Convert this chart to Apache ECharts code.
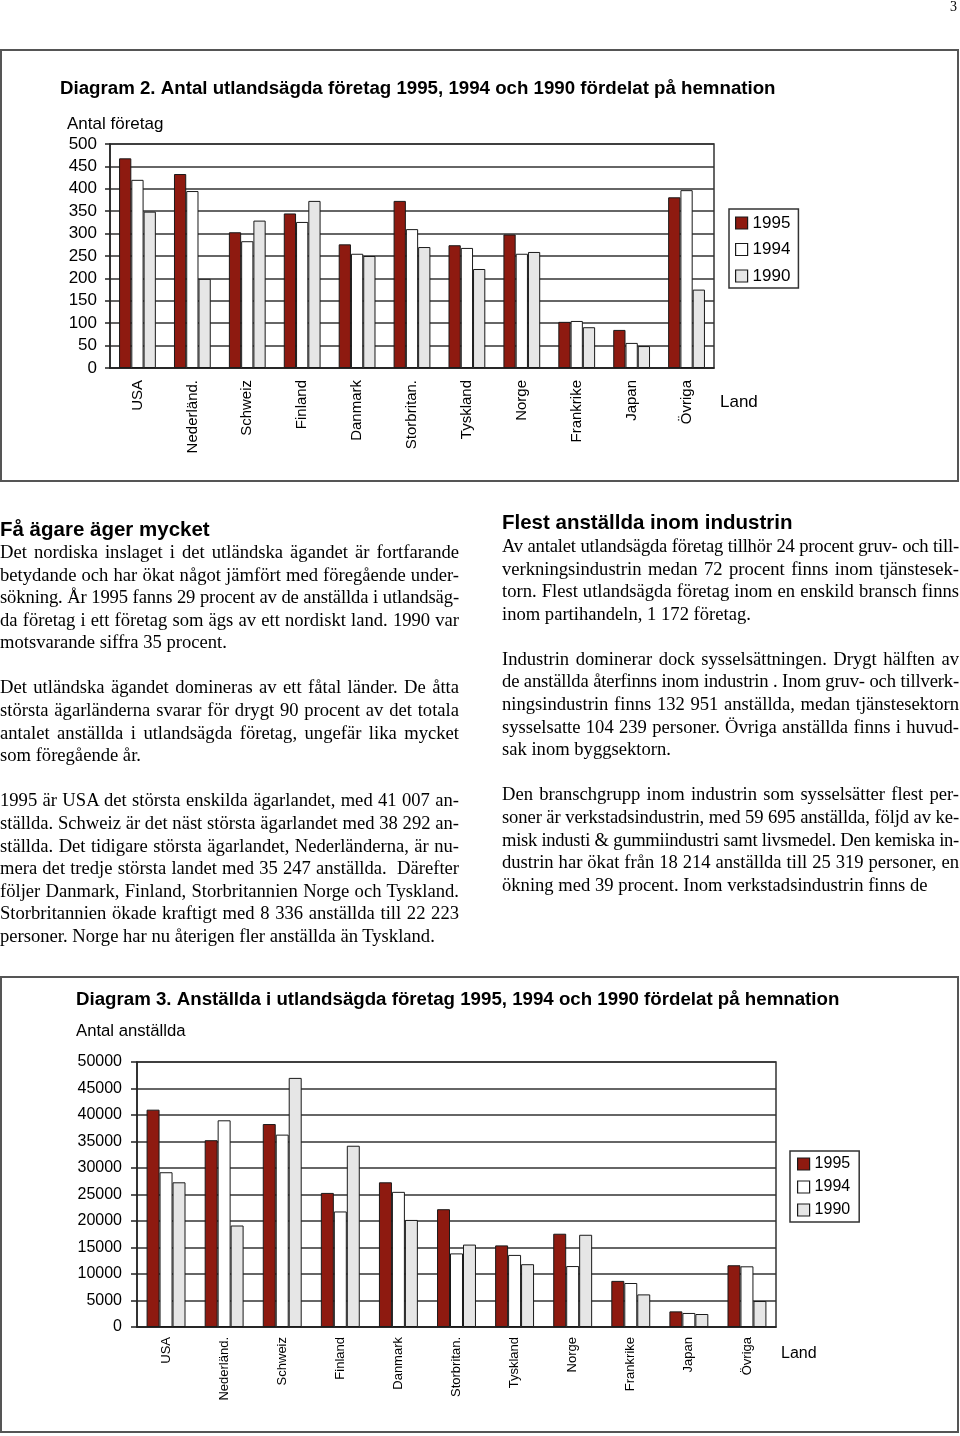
<!DOCTYPE html>
<html>
<head>
<meta charset="utf-8">
<script src="https://cdn.jsdelivr.net/npm/echarts@6/dist/echarts.min.js"></script>
<style>
  html,body{margin:0;padding:0;background:#fff;}
  #wrap{position:relative;width:960px;height:1436px;overflow:hidden;}
  #chart{position:absolute;left:0;top:0;width:960px;height:1436px;}
  .col{position:absolute;font-family:"Liberation Serif","Times New Roman",serif;font-size:18.6px;color:#000;}
  .col .ln{height:22.59px;line-height:22.59px;white-space:nowrap;text-align:justify;text-align-last:justify;}
  .col .ln.end{text-align:left;text-align-last:left;}
  .col.measure .ln{text-align:left;text-align-last:left;}
  .h{position:absolute;font-family:"Liberation Sans",Arial,sans-serif;font-weight:bold;font-size:20.5px;line-height:24px;white-space:nowrap;color:#000;}
  .pg{position:absolute;font-family:"Liberation Serif",serif;font-size:14px;line-height:14px;}
</style>
</head>
<body>
<div id="wrap">
  <div id="chart"></div>
  <div class="pg" style="left:950px;top:0px;">3</div>
  <div class="h" style="left:0px;top:517px;">Få ägare äger mycket</div>
  <div class="col measure" id="leftcol" style="left:0px;top:541px;width:459px;"></div>
  <div class="h" style="left:502px;top:510px;">Flest anställda inom industrin</div>
  <div class="col measure" id="rightcol" style="left:502px;top:535px;width:457px;"></div>
</div>
<script>
// ---- data ----
const categories = ['USA','Nederländ.','Schweiz','Finland','Danmark','Storbritan.','Tyskland','Norge','Frankrike','Japan','Övriga'];
const seriesNames = ['1995','1994','1990'];
// Diagram 2: Antal företag
const foretag1995 = [468, 433, 303, 345, 276, 373, 274, 298, 103, 85, 381];
const foretag1994 = [420, 395, 283, 326, 255, 310, 268, 255, 105, 56, 397];
const foretag1990 = [349, 199, 329, 373, 250, 270, 221, 259, 91, 49, 175];
// Diagram 3: Antal anställda
const anstallda1995 = [41007, 35247, 38292, 25300, 27300, 22223, 15400, 17600, 8700, 2950, 11650];
const anstallda1994 = [29200, 39000, 36300, 21800, 25500, 13887, 13600, 11500, 8300, 2650, 11450];
const anstallda1990 = [27300, 19150, 47000, 34200, 20200, 15550, 11850, 17400, 6150, 2450, 4900];

const leftLines = [
  ['Det nordiska inslaget i det utländska ägandet är fortfarande',0],
  ['betydande och har ökat något jämfört med föregående under-',0],
  ['sökning. År 1995 fanns 29 procent av de anställda i utlandsäg-',0],
  ['da företag i ett företag som ägs av ett nordiskt land. 1990 var',0],
  ['motsvarande siffra 35 procent.',1],
  ['',1],
  ['Det utländska ägandet domineras av ett fåtal länder. De åtta',0],
  ['största ägarländerna svarar för drygt 90 procent av det totala',0],
  ['antalet anställda i utlandsägda företag, ungefär lika mycket',0],
  ['som föregående år.',1],
  ['',1],
  ['1995 är USA det största enskilda ägarlandet, med 41 007 an-',0],
  ['ställda. Schweiz är det näst största ägarlandet med 38 292 an-',0],
  ['ställda. Det tidigare största ägarlandet, Nederländerna, är nu-',0],
  ['mera det tredje största landet med 35 247 anställda.&nbsp; Därefter',0],
  ['följer Danmark, Finland, Storbritannien Norge och Tyskland.',0],
  ['Storbritannien ökade kraftigt med 8 336 anställda till 22 223',0],
  ['personer. Norge har nu återigen fler anställda än Tyskland.',1]
];
const rightLines = [
  ['Av antalet utlandsägda företag tillhör 24 procent gruv- och till-',0],
  ['verkningsindustrin medan 72 procent finns inom tjänstesek-',0],
  ['torn. Flest utlandsägda företag inom en enskild bransch finns',0],
  ['inom partihandeln, 1 172 företag.',1],
  ['',1],
  ['Industrin dominerar dock sysselsättningen. Drygt hälften av',0],
  ['de anställda återfinns inom industrin . Inom gruv- och tillverk-',0],
  ['ningsindustrin finns 132 951 anställda, medan tjänstesektorn',0],
  ['sysselsatte 104 239 personer. Övriga anställda finns i huvud-',0],
  ['sak inom byggsektorn.',1],
  ['',1],
  ['Den branschgrupp inom industrin som sysselsätter flest per-',0],
  ['soner är verkstadsindustrin, med 59 695 anställda, följd av ke-',0],
  ['misk industi &amp; gummiindustri samt livsmedel. Den kemiska in-',0],
  ['dustrin har ökat från 18 214 anställda till 25 319 personer, en',0],
  ['ökning med 39 procent. Inom verkstadsindustrin finns de',1]
];
function fill(id, lines){
  const col = document.getElementById(id);
  col.innerHTML = lines.map(l =>
    '<div class="ln' + (l[1] ? ' end' : '') + '"><span>' + (l[0] || '&nbsp;') + '</span></div>').join('');
  const w = col.clientWidth;
  col.querySelectorAll('.ln').forEach(ln => {
    const sp = ln.firstChild;
    const nat = sp.getBoundingClientRect().width;
    if (nat > w - 0.5) {
      const n = sp.textContent.length;
      ln.style.letterSpacing = (-(nat - w + 1.0) / n).toFixed(3) + 'px';
    }
  });
  col.classList.remove('measure');
}
fill('leftcol', leftLines);
fill('rightcol', rightLines);

// ---- chart ----
const FONT = '"Liberation Sans", Arial, Helvetica, sans-serif';
const RED = '#8e1a10', WHITE = '#ffffff', GRAY = '#e6e6e6';
const colors = [RED, WHITE, GRAY];
const chart = echarts.init(document.getElementById('chart'), null, {renderer:'canvas'});

function barSeries(name, data, idx, color){
  return {
    type:'bar', name:name, data:data, xAxisIndex:idx, yAxisIndex:idx,
    barGap:'0%', barCategoryGap:'33%',
    itemStyle:{color:color, borderColor:'#1a1a1a', borderWidth:1},
    emphasis:{disabled:true}
  };
}
function gText(text, x, y, size, bold){
  return {
    type:'text', x:x, y:y, silent:true,
    style:{text:text, fill:'#000', font:(bold?'bold ':'') + size + 'px ' + FONT,
           textAlign:'left', textVerticalAlign:'middle', verticalAlign:'middle'}
  };
}

const option = {
  animation:false,
  backgroundColor:'transparent',
  grid:[
    {left:110, top:144, width:604, height:224, show:true, borderColor:'#333', borderWidth:1.5, containLabel:false},
    {left:137, top:1062, width:639, height:265, show:true, borderColor:'#333', borderWidth:1.5, containLabel:false}
  ],
  xAxis:[
    {type:'category', gridIndex:0, data:categories,
     axisLine:{lineStyle:{color:'#222', width:1.5}}, axisTick:{show:false},
     axisLabel:{rotate:90, interval:0, fontSize:15, fontFamily:FONT, color:'#000', margin:12}},
    {type:'category', gridIndex:1, data:categories,
     axisLine:{lineStyle:{color:'#222', width:1.5}}, axisTick:{show:false},
     axisLabel:{rotate:90, interval:0, fontSize:13, fontFamily:FONT, color:'#000', margin:10}}
  ],
  yAxis:[
    {type:'value', gridIndex:0, min:0, max:500, interval:50,
     axisLine:{show:true, lineStyle:{color:'#222', width:1.5}},
     axisTick:{show:true, length:5, lineStyle:{color:'#222', width:1.5}},
     axisLabel:{fontSize:17, fontFamily:FONT, color:'#000', margin:13, formatter:v => String(v)},
     splitLine:{show:true, lineStyle:{color:'#333', width:1.5}}},
    {type:'value', gridIndex:1, min:0, max:50000, interval:5000,
     axisLine:{show:true, lineStyle:{color:'#222', width:1.5}},
     axisTick:{show:true, length:6, lineStyle:{color:'#222', width:1.5}},
     axisLabel:{fontSize:16, fontFamily:FONT, color:'#000', margin:15, formatter:v => String(v)},
     splitLine:{show:true, lineStyle:{color:'#333', width:1.5}}}
  ],
  legend:[
    {data:seriesNames, orient:'vertical', left:729, top:209, padding:[5.5,8,3.5,6],
     itemWidth:12, itemHeight:12, itemGap:9.5, icon:'rect', selectedMode:false,
     borderColor:'#333', borderWidth:1.5,
     itemStyle:{borderColor:'#1a1a1a', borderWidth:1.2},
     textStyle:{fontSize:17, fontFamily:FONT, color:'#000'}},
    {data:seriesNames, orient:'vertical', left:790, top:1151, padding:[5,9,4,7],
     itemWidth:12, itemHeight:12, itemGap:7, icon:'rect', selectedMode:false,
     borderColor:'#333', borderWidth:1.5,
     itemStyle:{borderColor:'#1a1a1a', borderWidth:1.2},
     textStyle:{fontSize:16, fontFamily:FONT, color:'#000'}}
  ],
  graphic:[
    {type:'rect', silent:true, shape:{x:1, y:50, width:957, height:431},
     style:{fill:'none', stroke:'#555', lineWidth:2}},
    {type:'rect', silent:true, shape:{x:1, y:977, width:957, height:455},
     style:{fill:'none', stroke:'#555', lineWidth:2}},
    gText('Diagram 2. Antal utlandsägda företag 1995, 1994 och 1990 fördelat på hemnation', 60, 88.5, 18.7, true),
    gText('Antal företag', 67, 124.5, 17, false),
    gText('Land', 720, 402, 17, false),
    gText('Diagram 3. Anställda i utlandsägda företag 1995, 1994 och 1990 fördelat på hemnation', 76, 999.5, 18.7, true),
    gText('Antal anställda', 76, 1031, 16.7, false),
    gText('Land', 781, 1354, 16, false)
  ],
  series:[
    barSeries(seriesNames[0], foretag1995, 0, colors[0]),
    barSeries(seriesNames[1], foretag1994, 0, colors[1]),
    barSeries(seriesNames[2], foretag1990, 0, colors[2]),
    barSeries(seriesNames[0], anstallda1995, 1, colors[0]),
    barSeries(seriesNames[1], anstallda1994, 1, colors[1]),
    barSeries(seriesNames[2], anstallda1990, 1, colors[2])
  ]
};
chart.setOption(option);
</script>
</body>
</html>
